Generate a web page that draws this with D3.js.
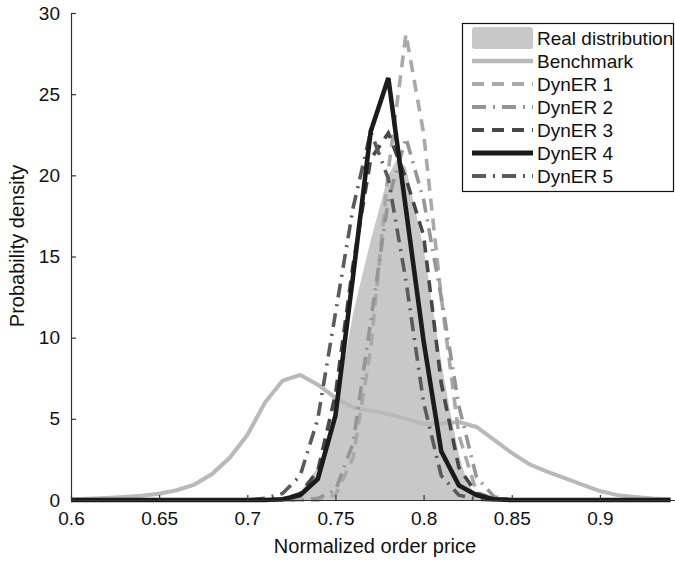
<!DOCTYPE html>
<html><head><meta charset="utf-8">
<script src="https://cdn.jsdelivr.net/npm/d3@7"></script>
<style>
body{margin:0;background:#fff;}
text{font-family:"Liberation Sans",Arial,Helvetica,sans-serif;fill:#111;}
</style></head>
<body><svg id="c" width="675" height="561"></svg>
<script>
// ---- data ----
const xGrid = [0.60,0.61,0.62,0.63,0.64,0.65,0.66,0.67,0.68,0.69,0.70,0.71,0.72,0.73,0.74,0.75,0.76,0.77,0.78,0.79,0.80,0.81,0.82,0.83,0.84,0.85,0.86,0.87,0.88,0.89,0.90,0.91,0.92,0.93,0.94];
const benchmark = [0.05,0.08,0.12,0.18,0.26,0.38,0.6,0.95,1.6,2.6,4.0,6.0,7.35,7.7,7.1,6.3,5.7,5.5,5.3,5.0,4.7,4.7,4.8,4.5,3.7,2.9,2.2,1.75,1.35,0.95,0.55,0.3,0.18,0.1,0.05];
const dyner1 = [0,0,0,0,0,0,0,0,0,0,0,0,0,0,0,0.3,2.6,9.3,20.3,28.7,22.6,12.5,4.0,0.5,0.05,0,0,0,0,0,0,0,0,0,0];
const dyner2 = [0,0,0,0,0,0,0,0,0,0,0,0,0,0,0.1,0.6,3.5,11,18.5,22.3,18.5,12.5,5.8,1.4,0.2,0,0,0,0,0,0,0,0,0,0];
const dyner3 = [0,0,0,0,0,0,0,0,0,0,0,0,0.05,0.4,1.8,6.5,14.5,21,22.6,19.8,16.3,7.2,2.0,0.4,0.05,0,0,0,0,0,0,0,0,0,0];
const dyner4 = [0,0,0,0,0,0,0,0,0,0,0,0,0.05,0.3,1.3,5.2,13.8,22.7,26.0,17.9,9.8,3.0,0.9,0.3,0.05,0,0,0,0,0,0,0,0,0,0];
const dyner5 = [0,0,0,0,0,0,0,0,0,0,0,0.1,0.4,1.5,5.0,11.5,18.0,22.7,19.8,13.5,6.0,1.5,0.3,0.05,0,0,0,0,0,0,0,0,0,0,0];
const realX = [0.60,0.72,0.73,0.74,0.75,0.76,0.77,0.78,0.785,0.79,0.80,0.81,0.815,0.82,0.825,0.83,0.84,0.94];
const realY = [0,0,0.5,2.0,5.5,11.5,16,20,21,20.5,15.5,8.5,5.5,2.8,1.0,0.3,0,0];
const xTicks = [0.6,0.65,0.7,0.75,0.8,0.85,0.9];
const xTickLabels = ["0.6","0.65","0.7","0.75","0.8","0.85","0.9"];
const yTicks = [0,5,10,15,20,25,30];
const yTickLabels = ["0","5","10","15","20","25","30"];
const seriesNames = ["Real distribution","Benchmark","DynER 1","DynER 2","DynER 3","DynER 4","DynER 5"];

// ---- styles ----
const styles = {
  "Benchmark": {color:"#b9b9b9", w:4, dash:null},
  "DynER 1": {color:"#a9a9a9", w:3.6, dash:"12,8"},
  "DynER 2": {color:"#959595", w:3.6, dash:"14,7,2,7"},
  "DynER 3": {color:"#474747", w:3.6, dash:"12,8"},
  "DynER 4": {color:"#1b1b1b", w:4.6, dash:null},
  "DynER 5": {color:"#5a5a5a", w:3.6, dash:"14,7,2,7"}
};
const seriesData = {"Benchmark":benchmark,"DynER 1":dyner1,"DynER 2":dyner2,"DynER 3":dyner3,"DynER 5":dyner5,"DynER 4":dyner4};

const svg = d3.select("#c");
const x = d3.scaleLinear().domain([0.6,0.9426]).range([71,675]);
const y = d3.scaleLinear().domain([0,30]).range([500,13]);

// real distribution fill
const area = d3.area().x((d,i)=>x(realX[i])).y0(y(0)).y1(d=>y(d));
svg.append("path").attr("d", area(realY)).attr("fill","#c8c8c8");

// lines
const line = d3.line().x((d,i)=>x(xGrid[i])).y(d=>y(d));
["Benchmark","DynER 1","DynER 2","DynER 3","DynER 5","DynER 4"].forEach(n=>{
  const s = styles[n];
  svg.append("path").attr("d", line(seriesData[n]))
    .attr("fill","none").attr("stroke",s.color).attr("stroke-width",s.w)
    .attr("stroke-dasharray",s.dash).attr("stroke-linejoin","miter");
});

// axes
const xAxis = d3.axisBottom(x).tickValues(xTicks).tickFormat((d,i)=>xTickLabels[i])
  .tickSizeInner(-5).tickSizeOuter(0).tickPadding(12);
const yAxis = d3.axisLeft(y).tickValues(yTicks).tickFormat((d,i)=>yTickLabels[i])
  .tickSizeInner(-5).tickSizeOuter(0).tickPadding(11);
const gx = svg.append("g").attr("transform","translate(0,500)").call(xAxis);
const gy = svg.append("g").attr("transform","translate(71,0)").call(yAxis);
[gx,gy].forEach(g=>{
  g.selectAll("path,line").attr("stroke","#333").attr("stroke-width",1.2);
  g.selectAll("text").attr("font-size",19).attr("fill","#111")
   .style("font-family","'Liberation Sans',Arial,sans-serif");
});

svg.append("text").attr("x",375).attr("y",553).attr("text-anchor","middle")
  .attr("font-size",20).text("Normalized order price");
svg.append("text").attr("transform","translate(24,246) rotate(-90)").attr("text-anchor","middle")
  .attr("font-size",20).text("Probability density");

// legend
const lg = svg.append("g");
lg.append("rect").attr("x",462.5).attr("y",23.5).attr("width",211).attr("height",168)
  .attr("fill","#fff").attr("stroke","#111").attr("stroke-width",1.2);
seriesNames.forEach((n,i)=>{
  const cy = 38 + i*23;
  if(n==="Real distribution"){
    lg.append("rect").attr("x",472).attr("y",cy-11).attr("width",61).attr("height",22)
      .attr("rx",3).attr("fill","#c8c8c8");
  } else {
    const s = styles[n];
    lg.append("line").attr("x1",472).attr("x2",533).attr("y1",cy).attr("y2",cy)
      .attr("stroke",s.color).attr("stroke-width",s.w+0.4).attr("stroke-dasharray",s.dash);
  }
  lg.append("text").attr("x",537).attr("y",cy).attr("dy","0.36em")
    .attr("font-size",19).text(n);
});
</script></body></html>
